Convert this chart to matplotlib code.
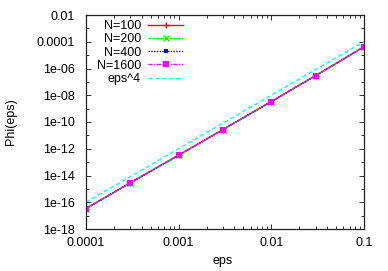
import matplotlib
matplotlib.use("Agg")
import matplotlib.pyplot as plt
from matplotlib.ticker import LogLocator, NullFormatter

eps = [1e-4, 3e-4, 1e-3, 3e-3, 1e-2, 3e-2, 1e-1]

phi_n100 = [3.4e-17, 2.8e-15, 3.3e-13, 2.7e-11, 3.4e-9, 2.9e-7, 4.2e-5]
phi_n200 = [3.4e-17, 2.8e-15, 3.3e-13, 2.7e-11, 3.4e-9, 2.9e-7, 4.2e-5]
phi_n400 = [3.4e-17, 2.8e-15, 3.3e-13, 2.7e-11, 3.4e-9, 2.9e-7, 4.2e-5]
phi_n1600 = [3.4e-17, 2.8e-15, 3.3e-13, 2.7e-11, 3.4e-9, 2.9e-7, 4.2e-5]
eps4 = [1e-16, 8.1e-15, 1e-12, 8.1e-11, 1e-8, 8.1e-7, 1e-4]

xticks = [1e-4, 1e-3, 1e-2, 1e-1]
xtick_labels = ["0.0001", "0.001", "0.01", "0.1"]
yticks = [1e-18, 1e-16, 1e-14, 1e-12, 1e-10, 1e-8, 1e-6, 1e-4, 1e-2]
ytick_labels = ["1e-18", "1e-16", "1e-14", "1e-12", "1e-10",
                "1e-08", "1e-06", "0.0001", "0.01"]

plt.rcParams["font.family"] = ["Liberation Sans", "DejaVu Sans"]
plt.rcParams["font.size"] = 9

fig = plt.figure(figsize=(3.88, 2.71), dpi=100)
ax = fig.add_axes([86 / 388, 1 - 229 / 271, 278 / 388, 214 / 271])

ax.plot(eps, phi_n100, color="#ff0000", lw=1, ls="-", marker="+",
        ms=5, mew=1, label="N=100")
ax.plot(eps, phi_n200, color="#00ff00", lw=1, ls=(0, (2, 1)), marker="x",
        ms=4, mew=1, label="N=200")
ax.plot(eps, phi_n400, color="#0000ff", lw=1, ls=(0, (1, 1)), marker="s",
        ms=3.5, mew=0, label="N=400")
ax.plot(eps, phi_n1600, color="#ff00ff", lw=1, ls=(0, (3, 1, 1, 1)),
        marker="s", ms=4.5, mew=0, label="N=1600")
ax.plot(eps, eps4, color="#00ffff", lw=1, ls=(0, (3, 2)), label="eps^4")

ax.set_xscale("log")
ax.set_yscale("log")
ax.set_xlim(1e-4, 1e-1)
ax.set_ylim(1e-18, 1e-2)

ax.set_xticks(xticks)
ax.set_xticklabels(xtick_labels)
ax.set_yticks(yticks)
ax.set_yticklabels(ytick_labels)
ax.xaxis.set_minor_locator(LogLocator(base=10, subs=range(2, 10)))
ax.yaxis.set_minor_locator(LogLocator(base=10, subs=[1.0], numticks=30))
ax.xaxis.set_minor_formatter(NullFormatter())
ax.yaxis.set_minor_formatter(NullFormatter())

ax.tick_params(which="both", direction="in", top=True, right=True,
               color="#333333", width=0.7)
ax.tick_params(which="major", length=3.5)
ax.tick_params(which="minor", length=2)
ax.tick_params(axis="x", pad=6)
ax.tick_params(axis="y", pad=8)
for s in ax.spines.values():
    s.set_linewidth(0.9)
    s.set_color("#222222")

ax.set_xlabel("eps")
ax.set_ylabel("Phi(eps)")
ax.xaxis.set_label_coords(0.49, -0.12)
ax.yaxis.set_label_coords(-0.25, 0.5)

ax.legend(loc="upper right", frameon=False, markerfirst=False,
          handlelength=2.8, handletextpad=0.6, labelspacing=0.1,
          borderpad=0, borderaxespad=0,
          bbox_to_anchor=((183.3 - 86) / 278, (229 - 20) / 214))

fig.savefig("out.png", dpi=100, facecolor="white")
